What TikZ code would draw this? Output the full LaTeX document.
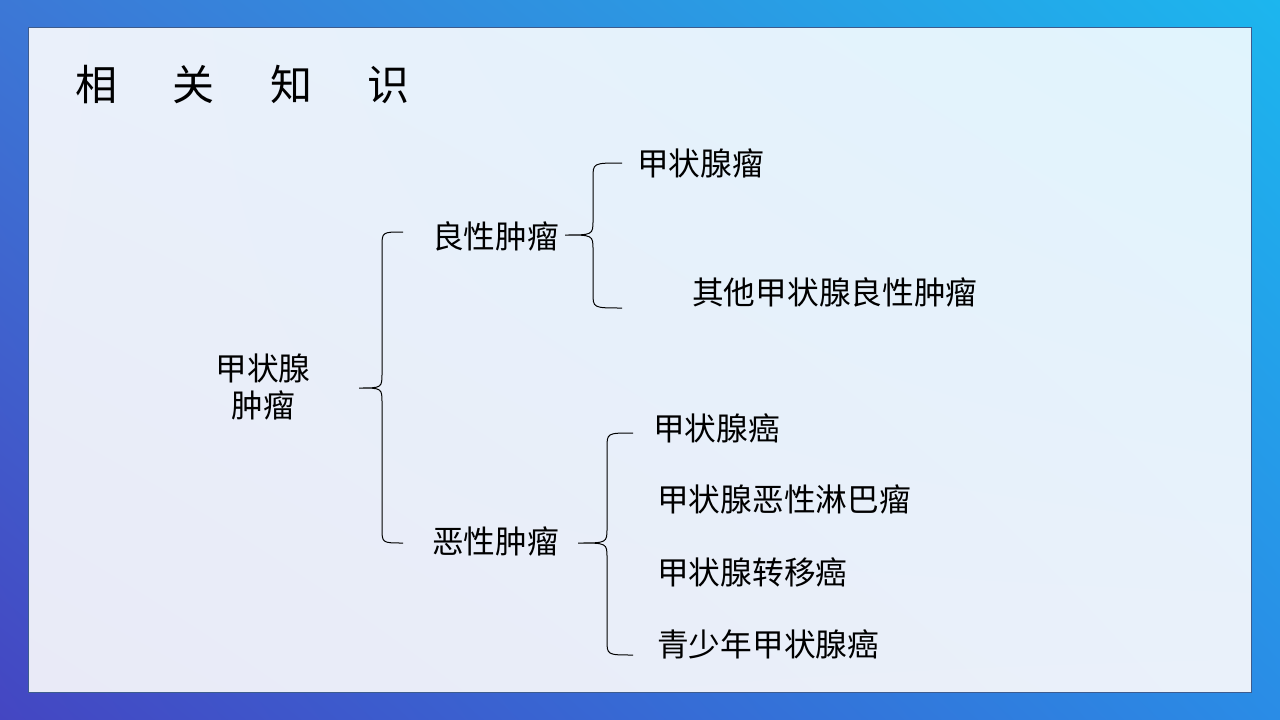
\documentclass[tikz,border=0pt]{standalone}
\usepackage{fontspec}
\setmainfont{Noto Sans CJK SC}
\usepackage{tikz}
\usetikzlibrary{calc,shadings}

\definecolor{bgUL}{HTML}{3C78D6}
\definecolor{bgUR}{HTML}{1CB6EE}
\definecolor{bgLL}{HTML}{4446C2}
\definecolor{bgLR}{HTML}{2A8CE6}
\definecolor{panelUL}{HTML}{EAF0FA}
\definecolor{panelUR}{HTML}{E0F4FD}
\definecolor{panelLL}{HTML}{E9EAF7}
\definecolor{panelLR}{HTML}{EAF1FA}
\definecolor{panelEdge}{HTML}{3D5C8E}

\tikzset{
  label text/.style={inner sep=0pt, anchor=west, font=\fontsize{31.7}{37}\selectfont},
  brace line/.style={draw=black, line width=1pt}
}

% curly brace: top end, tip, bottom end, spine x
\newcommand{\treebrace}[4]{%
\draw[brace line] (#1) .. controls (#1 -| #4) .. ($(#1 -| #4)+(0,15)$)
  -- ($(#2 -| #4)+(0,-15)$) .. controls (#2 -| #4) .. (#2)
  .. controls (#2 -| #4) .. ($(#2 -| #4)+(0,15)$)
  -- ($(#3 -| #4)+(0,-15)$) .. controls (#3 -| #4) .. (#3);}

\begin{document}
\begin{tikzpicture}[x=1pt,y=-1pt]
\useasboundingbox (0,0) rectangle (1280,720);
\shade[upper left=bgUL, upper right=bgUR, lower left=bgLL, lower right=bgLR] (0,0) rectangle (1280,720);
\shade[upper left=panelUL, upper right=panelUR, lower left=panelLL, lower right=panelLR] (28.5,27) rectangle (1251,692);
\draw[panelEdge, line width=1pt] (28.5,27) rectangle (1251,692);

\node[inner sep=0pt, anchor=west, font=\fontsize{42}{46}\selectfont] (title) at (75,84)
  {相\hspace{55.5pt}关\hspace{55.5pt}知\hspace{55.5pt}识};

\begin{scope}[every node/.style={label text}]
\node[anchor=center, align=center] (root) at (263,387) {甲状腺\\肿瘤};
\node (benign) at (432,236) {良性肿瘤};
\node (malig) at (432,541) {恶性肿瘤};
\node (adenoma) at (637,163) {甲状腺瘤};
\node (otherbenign) at (692,292) {其他甲状腺良性肿瘤};
\node (carcinoma) at (653,428) {甲状腺癌};
\node (lymphoma) at (657,499) {甲状腺恶性淋巴瘤};
\node (metastatic) at (657,572) {甲状腺转移癌};
\node (juvenile) at (657,644) {青少年甲状腺癌};
\end{scope}

\coordinate (root-top) at (403,232);
\coordinate (root-tip) at (359,388);
\coordinate (root-bot) at (403,543);
\coordinate (root-spine) at (382,388);
\coordinate (benign-top) at (622,163);
\coordinate (benign-tip) at (565,235);
\coordinate (benign-bot) at (622,308);
\coordinate (benign-spine) at (593,235);
\coordinate (malig-top) at (633,433);
\coordinate (malig-tip) at (578,543);
\coordinate (malig-bot) at (633,655);
\coordinate (malig-spine) at (607,543);

\treebrace{root-top}{root-tip}{root-bot}{root-spine}
\treebrace{benign-top}{benign-tip}{benign-bot}{benign-spine}
\treebrace{malig-top}{malig-tip}{malig-bot}{malig-spine}
\end{tikzpicture}
\end{document}
